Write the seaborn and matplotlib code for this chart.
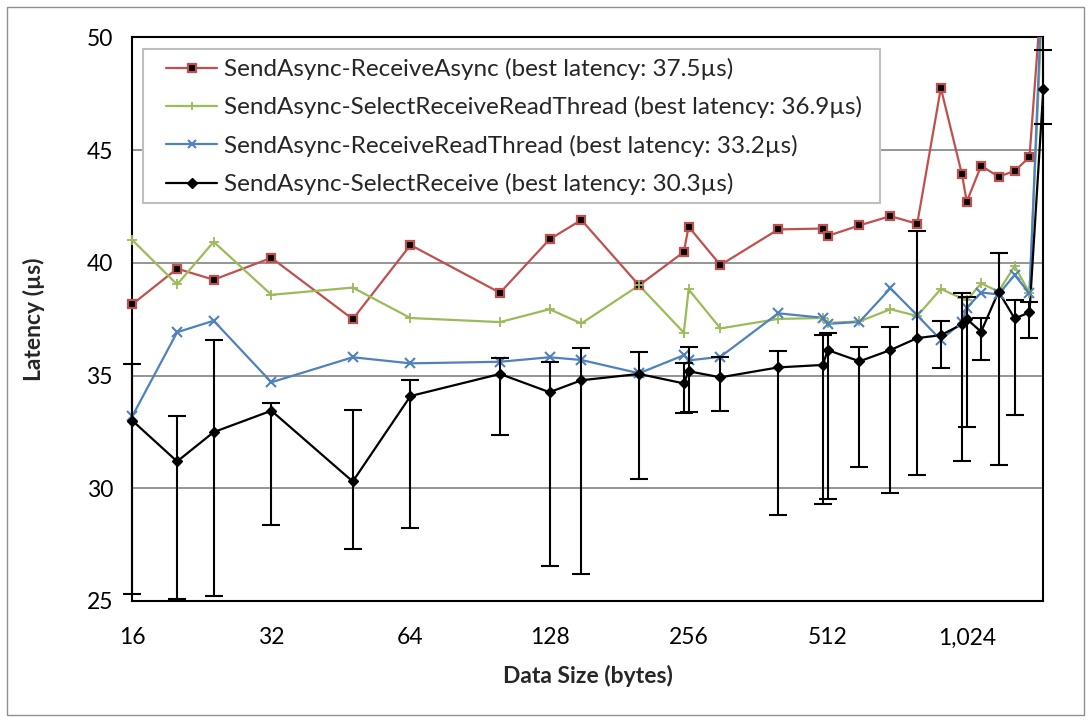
import matplotlib
matplotlib.use("Agg")
import matplotlib.pyplot as plt
from matplotlib.lines import Line2D
from matplotlib.patches import Rectangle
import numpy as np
import pandas as pd
import seaborn as sns

# Message sizes (bytes)
sizes = [16, 20, 24, 32, 48, 64, 100, 128, 150, 200, 250, 256, 300, 400, 500,
         512, 600, 700, 800, 900, 1000, 1024, 1100, 1200, 1300, 1400, 1500]

# Mean latency per size (µs)
receive_async = [38.16, 39.74, 39.25, 40.22, 37.5, 40.79, 38.67, 41.04, 41.90,
                 39.00, 40.48, 41.60, 39.90, 41.48, 41.52, 41.19, 41.66, 42.07,
                 41.73, 47.75, 43.92, 42.71, 44.30, 43.82, 44.07, 44.69, 53.0]
select_receive_read_thread = [41.01, 39.04, 40.93, 38.58, 38.90, 37.55, 37.37,
                              37.94, 37.31, 39.00, 36.9, 38.82, 37.09, 37.51,
                              37.55, 37.33, 37.40, 37.94, 37.64, 38.84, 38.42,
                              38.33, 39.09, 38.72, 39.86, 38.66, 52.5]
receive_read_thread = [33.2, 36.92, 37.43, 34.70, 35.81, 35.54, 35.61, 35.81,
                       35.69, 35.10, 35.90, 35.67, 35.83, 37.76, 37.56, 37.29,
                       37.38, 38.87, 37.67, 36.58, 37.37, 38.00, 38.68, 38.60,
                       39.46, 38.64, 53.5]
select_receive = [33.00, 31.19, 32.49, 33.44, 30.3, 34.09, 35.07, 34.26, 34.79,
                  35.07, 34.65, 35.19, 34.92, 35.36, 35.47, 36.13, 35.63, 36.13,
                  36.66, 36.79, 37.27, 37.51, 36.94, 38.72, 37.53, 37.80, 47.7]
# Range of observed latencies for SelectReceive
select_receive_high = [35.52, 33.22, 36.57, 33.77, 33.48, 34.79, 35.79, 35.61,
                       36.23, 36.03, 35.54, 36.28, 35.83, 36.09, 36.81, 36.88,
                       36.26, 37.15, 41.42, 37.42, 38.64, 38.50, 37.55, 40.45,
                       38.37, 38.27, 49.43]
select_receive_low = [25.32, 25.09, 25.22, 28.38, 27.31, 28.25, 32.35, 26.57,
                      26.18, 30.42, 33.35, 33.37, 33.43, 28.83, 29.31, 29.51,
                      30.94, 29.78, 30.59, 35.34, 31.22, 32.72, 35.71, 31.03,
                      33.26, 36.65, 46.15]

series_names = [
    "SendAsync-ReceiveAsync (best latency: 37.5µs)",
    "SendAsync-SelectReceiveReadThread (best latency: 36.9µs)",
    "SendAsync-ReceiveReadThread (best latency: 33.2µs)",
    "SendAsync-SelectReceive (best latency: 30.3µs)",
]
x_tick_values = [16, 32, 64, 128, 256, 512, 1024]
x_tick_labels = ["16", "32", "64", "128", "256", "512", "1,024"]
y_tick_values = [25, 30, 35, 40, 45, 50]

RED, GREEN, BLUE, BLACK = "#C0504D", "#9BBB59", "#4F81BD", "#000000"

sns.set_theme(style="white")
plt.rcParams["font.family"] = ["Lato", "DejaVu Sans"]

fig = plt.figure(figsize=(10.91, 7.22), dpi=100)
ax = fig.add_axes([0.1213, 0.1676, 0.8350, 0.7807])

styles = [
    dict(values=receive_async, color=RED, marker="s", ms=6.0, mfc="black", mec=RED, mew=1.6),
    dict(values=select_receive_read_thread, color=GREEN, marker="+", ms=7.5, mfc=GREEN, mec=GREEN, mew=1.3),
    dict(values=receive_read_thread, color=BLUE, marker="x", ms=6.5, mfc=BLUE, mec=BLUE, mew=1.5),
    dict(values=select_receive, color=BLACK, marker="D", ms=5.5, mfc="black", mec="black", mew=1.0),
]

y_lo, y_hi = 25, 50
for name, st in zip(series_names, styles):
    df = pd.DataFrame({"size": sizes, "latency": st["values"]})
    # connecting line, clipped to the plot area
    sns.lineplot(data=df, x="size", y="latency", ax=ax, color=st["color"],
                 lw=1.6, errorbar=None, sort=False, zorder=3)
    # markers drawn unclipped so the ones on the frame stay whole
    vis = df[(df["latency"] >= y_lo) & (df["latency"] <= y_hi)]
    mk = ax.plot(vis["size"], vis["latency"], linestyle="none", marker=st["marker"],
                 ms=st["ms"], mfc=st["mfc"], mec=st["mec"], mew=st["mew"], zorder=4)[0]
    mk.set_clip_on(False)

# min/max whiskers for SelectReceive
yerr = np.vstack([np.array(select_receive) - np.array(select_receive_low),
                  np.array(select_receive_high) - np.array(select_receive)])
eb = ax.errorbar(sizes, select_receive, yerr=yerr, fmt="none", ecolor="black",
                 elinewidth=1.5, capsize=6.5, capthick=1.5, zorder=5)
for art in eb.lines[1] + eb.lines[2]:
    art.set_clip_on(False)

ax.set_xscale("log", base=2)
ax.set_xlim(16, 1500)
ax.set_ylim(y_lo, y_hi)
ax.set_xticks(x_tick_values)
ax.set_xticklabels(x_tick_labels)
ax.xaxis.set_minor_locator(matplotlib.ticker.NullLocator())
ax.set_yticks(y_tick_values)
ax.grid(axis="y", color="#8c8c8c", lw=1.3)
ax.grid(axis="x", visible=False)
ax.set_axisbelow(True)

for sp in ax.spines.values():
    sp.set_visible(True)
    sp.set_color("black")
    sp.set_linewidth(1.5)

ax.tick_params(axis="both", which="major", direction="out", length=6, width=1.3,
               color="black", labelsize=16.5, labelcolor="black")
ax.tick_params(axis="x", pad=13)
ax.tick_params(axis="y", pad=8)

ax.set_xlabel("Data Size (bytes)", fontsize=16.5, fontweight="bold", labelpad=12)
ax.set_ylabel("Latency (µs)", fontsize=16.5, fontweight="bold", labelpad=30)

# legend box: opaque panel with a light grey frame, entries laid over it
ax.add_patch(Rectangle((0.01175, 0.7061), 0.809, 0.2732, transform=ax.transAxes,
                       facecolor="white", edgecolor="#bfbfbf", lw=1.5,
                       zorder=9, clip_on=False))
handles = [Line2D([], [], color=st["color"], lw=1.6, marker=st["marker"],
                  ms=st["ms"] * 0.85, mfc=st["mfc"], mec=st["mec"], mew=st["mew"])
           for st in styles]
leg = ax.legend(handles, series_names, loc="upper left",
                bbox_to_anchor=(0.037, 0.9633), borderaxespad=0, frameon=False,
                fontsize=17.5, handlelength=2.1, handletextpad=0.3,
                labelspacing=0.67, borderpad=0)
leg.set_zorder(10)

# outer chart border
fig.patches.append(Rectangle((7 / 1091, 7 / 722), 1 - 14 / 1091, 1 - 14 / 722,
                             transform=fig.transFigure, fill=False,
                             edgecolor="#8f8f8f", lw=1.0))

fig.savefig("out.png", dpi=100)
